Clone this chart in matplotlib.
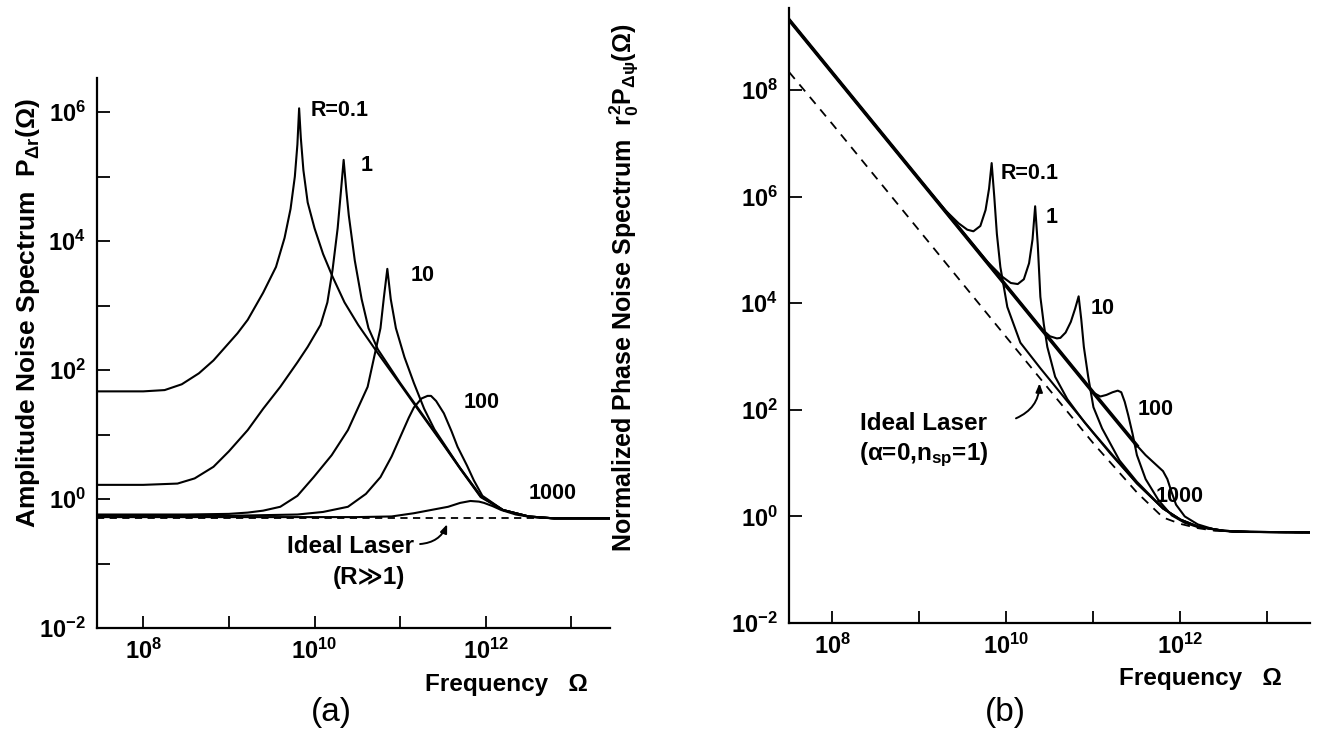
import matplotlib
matplotlib.use("Agg")
import matplotlib.pyplot as plt
from matplotlib.ticker import FixedLocator, FixedFormatter

plt.rcParams['font.family'] = ['Liberation Sans', 'DejaVu Sans']
plt.rcParams['font.weight'] = 'bold'
plt.rcParams['axes.labelweight'] = 'bold'
plt.rcParams['mathtext.fontset'] = 'custom'
plt.rcParams['mathtext.rm'] = 'Liberation Sans:bold'
plt.rcParams['mathtext.it'] = 'Liberation Sans:bold'
plt.rcParams['mathtext.bf'] = 'Liberation Sans:bold'

# ---- (a) amplitude noise, values as log10(Omega), log10(P) ----
amp_r01_x = [7.46, 8.0, 8.25, 8.45, 8.65, 8.82, 9.0, 9.1, 9.22, 9.4, 9.55, 9.65, 9.72, 9.77, 9.80, 9.82,
             9.84, 9.87, 9.92, 10.0, 10.1, 10.21, 10.35, 10.51, 10.74, 11.0, 11.24, 11.5, 11.7, 11.94,
             12.2, 12.5, 12.8, 13.45]
amp_r01_y = [1.67, 1.67, 1.69, 1.78, 1.95, 2.15, 2.42, 2.57, 2.78, 3.2, 3.6, 4.05, 4.5, 5.0, 5.5, 6.06,
             5.6, 5.1, 4.6, 4.2, 3.8, 3.45, 3.05, 2.70, 2.26, 1.78, 1.33, 0.85, 0.47, 0.03,
             -0.17, -0.27, -0.3, -0.3]
amp_r1_x = [7.46, 8.0, 8.4, 8.6, 8.82, 9.0, 9.22, 9.4, 9.6, 9.8, 9.92, 10.07, 10.15, 10.21, 10.27, 10.31,
            10.34, 10.37, 10.40, 10.47, 10.55, 10.63, 10.74, 11.0, 11.24, 11.5, 11.7, 11.94, 12.2, 12.5,
            12.8, 13.45]
amp_r1_y = [0.22, 0.22, 0.24, 0.32, 0.50, 0.74, 1.07, 1.40, 1.74, 2.12, 2.36, 2.70, 3.05, 3.55, 4.2, 4.8,
            5.26, 4.8, 4.4, 3.7, 3.1, 2.65, 2.32, 1.8, 1.35, 0.86, 0.48, 0.04, -0.17, -0.27,
            -0.3, -0.3]
amp_r10_x = [7.46, 8.5, 9.0, 9.22, 9.4, 9.6, 9.8, 9.99, 10.2, 10.39, 10.62, 10.77, 10.81, 10.85, 10.89,
             10.95, 11.05, 11.16, 11.28, 11.4, 11.55, 11.7, 11.94, 12.2, 12.5, 12.8, 13.45]
amp_r10_y = [-0.24, -0.24, -0.23, -0.21, -0.18, -0.12, 0.05, 0.34, 0.68, 1.07, 1.74, 2.65, 3.13, 3.57, 3.1,
             2.65, 2.2, 1.80, 1.40, 1.08, 0.78, 0.48, 0.05, -0.17, -0.27, -0.3, -0.3]
amp_r100_x = [7.46, 9.0, 9.8, 10.1, 10.39, 10.6, 10.77, 10.9, 11.0, 11.1, 11.16, 11.25, 11.32, 11.36,
              11.42, 11.51, 11.6, 11.67, 11.78, 11.86, 11.96, 12.2, 12.5, 12.8, 13.45]
amp_r100_y = [-0.26, -0.26, -0.24, -0.2, -0.12, 0.08, 0.34, 0.66, 0.96, 1.26, 1.42, 1.56, 1.6, 1.6,
              1.52, 1.33, 1.05, 0.81, 0.52, 0.29, 0.05, -0.17, -0.27, -0.3, -0.3]
amp_r1000_x = [7.46, 10.5, 10.9, 11.16, 11.4, 11.56, 11.7, 11.82, 11.92, 11.98, 12.08, 12.18, 12.35,
               12.53, 12.8, 13.45]
amp_r1000_y = [-0.28, -0.28, -0.27, -0.22, -0.16, -0.12, -0.06, -0.03, -0.04, -0.06, -0.11, -0.17, -0.24,
               -0.28, -0.3, -0.3]
amp_ideal_x = [7.46, 13.45]
amp_ideal_y = [-0.30, -0.30]

# ---- (b) phase noise ----
ph_common_x = [7.5, 8.0, 9.0, 10.0, 11.0, 11.5]
ph_common_y = [9.32, 8.32, 6.32, 4.32, 2.32, 1.33]
ph_r01_x = [7.5, 8.5, 9.0, 9.3, 9.45, 9.55, 9.62, 9.7, 9.76, 9.8, 9.83, 9.86, 9.89, 9.93, 10.01, 10.16,
            10.39, 10.7, 11.0, 11.5, 11.8, 12.0, 12.2, 12.5, 12.8, 13.49]
ph_r01_y = [9.32, 7.32, 6.32, 5.74, 5.5, 5.38, 5.35, 5.45, 5.75, 6.15, 6.63, 6.0, 5.3, 4.68, 3.93, 3.26,
            2.78, 2.16, 1.57, 0.62, 0.15, -0.06, -0.19, -0.27, -0.29, -0.3]
ph_r1_x = [7.5, 9.0, 9.78, 9.95, 10.05, 10.13, 10.2, 10.26, 10.3, 10.33, 10.36, 10.39, 10.43, 10.47,
           10.56, 10.7, 10.9, 11.2, 11.5, 11.8, 12.0, 12.2, 12.5, 12.8, 13.49]
ph_r1_y = [9.32, 6.32, 4.78, 4.5, 4.38, 4.36, 4.45, 4.75, 5.2, 5.82, 5.1, 4.12, 3.6, 3.18,
           2.62, 2.2, 1.76, 1.17, 0.62, 0.15, -0.06, -0.19, -0.27, -0.29, -0.3]
ph_r10_x = [7.5, 9.0, 10.0, 10.39, 10.5, 10.58, 10.62, 10.68, 10.74, 10.79, 10.83, 10.86, 10.89, 10.94,
            11.0, 11.1, 11.3, 11.5, 11.8, 12.0, 12.2, 12.5, 12.8, 13.49]
ph_r10_y = [9.32, 6.32, 4.32, 3.54, 3.38, 3.34, 3.35, 3.45, 3.65, 3.9, 4.13, 3.7, 3.18, 2.62,
            2.05, 1.65, 1.05, 0.65, 0.15, -0.06, -0.19, -0.27, -0.29, -0.3]
ph_r100_x = [7.5, 9.0, 10.0, 11.0, 11.08, 11.15, 11.22, 11.28, 11.32, 11.36, 11.4, 11.45, 11.5, 11.6,
             11.75, 11.9, 12.05, 12.2, 12.5, 12.8, 13.49]
ph_r100_y = [9.32, 6.32, 4.32, 2.32, 2.25, 2.28, 2.33, 2.36, 2.33, 2.15, 1.9, 1.55, 1.15, 0.7,
             0.3, 0.02, -0.12, -0.2, -0.27, -0.29, -0.3]
ph_r1000_x = [7.5, 9.0, 10.0, 11.0, 11.5, 11.6, 11.7, 11.8, 11.85, 11.9, 11.95, 12.05, 12.2, 12.4,
              12.6, 13.49]
ph_r1000_y = [9.32, 6.32, 4.32, 2.32, 1.33, 1.15, 1.0, 0.85, 0.7, 0.45, 0.22, 0.0, -0.15, -0.25,
              -0.29, -0.3]
ph_ideal_x = [7.5, 8.0, 9.0, 10.0, 11.0, 11.5, 11.8, 12.0, 12.2, 12.4, 12.7, 13.49]
ph_ideal_y = [8.34, 7.36, 5.36, 3.36, 1.37, 0.45, -0.02, -0.14, -0.22, -0.27, -0.29, -0.3]


def p10(v):
    return [10.0 ** a for a in v]


W, H = 1317, 729
fig = plt.figure(figsize=(W / 100, H / 100), dpi=100)
ax1 = fig.add_axes([97 / W, 1 - 628 / H, (610 - 97) / W, (628 - 78) / H])
ax2 = fig.add_axes([789 / W, 1 - 623 / H, (1310 - 789) / W, (623 - 8) / H])

lw = 1.5
for xs, ys in [(amp_r01_x, amp_r01_y), (amp_r1_x, amp_r1_y), (amp_r10_x, amp_r10_y),
               (amp_r100_x, amp_r100_y), (amp_r1000_x, amp_r1000_y)]:
    ax1.plot(p10(xs), p10(ys), color='black', lw=lw)
ax1.plot(p10(amp_ideal_x), p10(amp_ideal_y), color='black', lw=1.3, ls=(0, (4, 3)))

ax2.plot(p10(ph_common_x), p10(ph_common_y), color='black', lw=2.6)
for xs, ys in [(ph_r01_x, ph_r01_y), (ph_r1_x, ph_r1_y), (ph_r10_x, ph_r10_y),
               (ph_r100_x, ph_r100_y), (ph_r1000_x, ph_r1000_y)]:
    ax2.plot(p10(xs), p10(ys), color='black', lw=lw)
ax2.plot(p10(ph_ideal_x), p10(ph_ideal_y), color='black', lw=1.3, ls=(0, (5, 4)))

ax1.set_xlim(10 ** 7.46, 10 ** 13.45)
ax1.set_ylim(1e-2, 10 ** 6.53)
ax2.set_xlim(10 ** 7.5, 10 ** 13.49)
ax2.set_ylim(1e-2, 10 ** 9.54)

for ax in (ax1, ax2):
    ax.set_xscale('log')
    ax.set_yscale('log')
    ax.spines['top'].set_visible(False)
    ax.spines['right'].set_visible(False)
    ax.spines['left'].set_linewidth(1.6)
    ax.spines['bottom'].set_linewidth(1.6)
    ax.minorticks_off()
    xt = [10.0 ** k for k in range(8, 14)]
    ax.xaxis.set_major_locator(FixedLocator(xt))
    ax.xaxis.set_major_formatter(FixedFormatter(
        ['$10^{%d}$' % k if k % 2 == 0 else '' for k in range(8, 14)]))
    ax.tick_params(direction='in', length=9, width=1.3, labelsize=17, pad=8)
    ax.xaxis.set_minor_locator(FixedLocator([]))
    ax.yaxis.set_minor_locator(FixedLocator([]))

ax1.yaxis.set_major_locator(FixedLocator([10.0 ** k for k in range(-2, 7)]))
ax1.yaxis.set_major_formatter(FixedFormatter(
    ['$10^{%d}$' % k if k % 2 == 0 else '' for k in range(-2, 7)]))
ax2.yaxis.set_major_locator(FixedLocator([10.0 ** k for k in range(-2, 9, 2)]))
ax2.yaxis.set_major_formatter(FixedFormatter(['$10^{%d}$' % k for k in range(-2, 9, 2)]))

ax1.set_ylabel(r'Amplitude Noise Spectrum  $P_{\Delta r}(\Omega)$', fontsize=19, fontweight='bold')
ax1.yaxis.set_label_coords(-0.107, 0.573)
ax2.set_ylabel(r'Normalized Phase Noise Spectrum  $r_0^2P_{\Delta\psi}(\Omega)$', fontsize=18,
               fontweight='bold')
ax2.yaxis.set_label_coords(-0.284, 0.545)

fs_lab = 15.5
ax1.text(10 ** 9.95, 10 ** 6.03, 'R=0.1', fontsize=fs_lab, va='center')
ax1.text(10 ** 10.54, 10 ** 5.18, '1', fontsize=fs_lab, va='center')
ax1.text(10 ** 11.12, 10 ** 3.47, '10', fontsize=fs_lab, va='center')
ax1.text(10 ** 11.74, 10 ** 1.50, '100', fontsize=fs_lab, va='center')
ax1.text(10 ** 12.5, 10 ** 0.09, '1000', fontsize=fs_lab, va='center')
ax1.text(10 ** 11.16, 10 ** -0.74, 'Ideal Laser', fontsize=17.5, ha='right', va='center')
ax1.text(10 ** 11.06, 10 ** -1.21, '(R\u226b1)', fontsize=17.5, ha='right', va='center')
ax1.annotate('', xy=(10 ** 11.56, 10 ** -0.35), xytext=(10 ** 11.2, 10 ** -0.7),
             arrowprops=dict(arrowstyle='-|>,head_length=0.5,head_width=0.2', color='black', lw=1.4,
                             connectionstyle='arc3,rad=0.35'))

ax2.text(10 ** 9.93, 10 ** 6.44, 'R=0.1', fontsize=fs_lab, va='center')
ax2.text(10 ** 10.45, 10 ** 5.6, '1', fontsize=fs_lab, va='center')
ax2.text(10 ** 10.97, 10 ** 3.91, '10', fontsize=fs_lab, va='center')
ax2.text(10 ** 11.51, 10 ** 2.0, '100', fontsize=fs_lab, va='center')
ax2.text(10 ** 11.72, 10 ** 0.38, '1000', fontsize=fs_lab, va='center')
ax2.text(10 ** 8.32, 10 ** 1.75, 'Ideal Laser', fontsize=17.5, va='center')
ax2.text(10 ** 8.30, 10 ** 1.15, r'($\alpha$=0,n$_{sp}$=1)', fontsize=17.5, va='center')
ax2.annotate('', xy=(10 ** 10.38, 10 ** 2.55), xytext=(10 ** 10.08, 10 ** 1.82),
             arrowprops=dict(arrowstyle='-|>,head_length=0.5,head_width=0.2', color='black', lw=1.4,
                             connectionstyle='arc3,rad=0.35'))

fig.text(425 / W, 1 - 685 / H, 'Frequency   \u03a9', fontsize=17.5, va='center')
fig.text(1119 / W, 1 - 678 / H, 'Frequency   \u03a9', fontsize=17.5, va='center')
fig.text(331 / W, 1 - 712 / H, '(a)', fontsize=24, weight='normal', ha='center', va='center')
fig.text(1005 / W, 1 - 712 / H, '(b)', fontsize=24, weight='normal', ha='center', va='center')

fig.savefig('out.png', dpi=100)
